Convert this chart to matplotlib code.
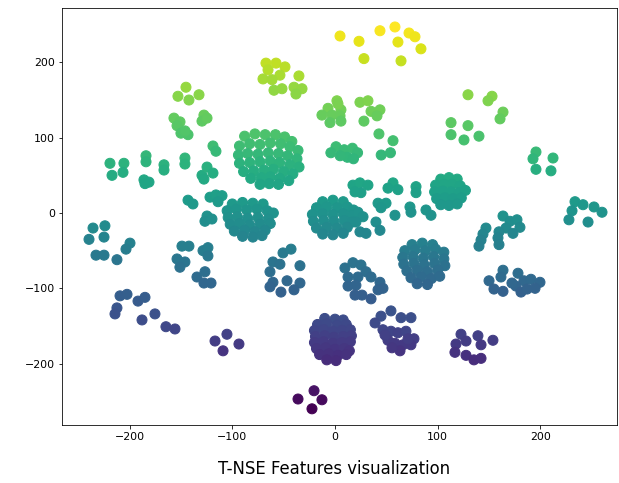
import numpy as np
import matplotlib
matplotlib.use("Agg")
import matplotlib.pyplot as plt

# t-SNE embedding points, grouped by visual cluster (x, y)
c_yellow = [(4.9, 235), (23.4, 228), (43.8, 242), (58.4, 247), (72.1, 239), (77.9, 234),
            (61.3, 227), (83.7, 218), (28.2, 205), (64.3, 202)]
c_lime = [(-67.2, 199), (-57.4, 199), (-48.7, 194), (-65.2, 190), (-53.6, 183), (-70.1, 178),
          (-61.3, 177), (-59.4, 163), (-51.6, 165), (-35.1, 182), (-39.9, 167), (-32.1, 165), (-38.0, 158)]
c_upleft = [(-145.1, 167), (-152.9, 155), (-142.2, 150), (-132.4, 157), (-156.8, 126), (-150.9, 121),
            (-153.8, 116), (-127.6, 130), (-129.5, 122), (-124.6, 126), (-150, 106), (-143.1, 104), (-146, 109)]
c_left_green = [(-219.1, 66), (-217.1, 50), (-205.5, 66), (-206.4, 54), (-184.0, 76), (-184.0, 68),
                (-186.0, 44), (-181.1, 41), (-185, 39), (-166.5, 64), (-166.5, 57), (-146.1, 73),
                (-146.1, 65), (-129.5, 50), (-127.6, 45), (-118.8, 89), (-115.9, 82),
                (-124.6, 61), (-118.8, 53)]
c_big_green = [(-88, 102), (-78, 105), (-68, 104), (-58, 104), (-49, 101), (-42, 95),
               (-93, 89), (-83, 92), (-73, 91), (-63, 93), (-53, 92), (-44, 88), (-36, 83),
               (-94, 77), (-85, 79), (-75, 78), (-65, 80), (-55, 79), (-46, 76), (-37, 72),
               (-93, 66), (-83, 67), (-73, 68), (-63, 69), (-54, 67), (-44, 64), (-35, 61),
               (-89, 55), (-79, 56), (-69, 57), (-60, 58), (-50, 55), (-41, 52),
               (-82, 46), (-72, 47), (-63, 48), (-54, 46), (-45, 43),
               (-73, 38), (-64, 39), (-55, 38)]
c_top_mid = [(1.9, 149), (-6.8, 139), (5.8, 137), (-12.7, 130), (-2.9, 130), (4.9, 129),
             (-4.9, 120), (5.8, 122), (2.9, 145),
             (24.3, 147), (32.1, 149), (35.1, 135), (43.8, 137), (40.9, 129), (28.2, 122),
             (42.8, 105), (56.5, 96)]
c_mid_green = [(1, 88), (9, 84), (17, 86), (12, 74), (22, 80), (5, 76), (-4, 80), (18, 72),
               (45, 77), (54, 80)]
c_right_green = [(129.5, 157), (113, 120), (129.5, 116), (113, 104), (125.6, 97), (140.2, 102),
                 (152.9, 155), (149, 149), (163.6, 134), (160.7, 125)]
c_right_small = [(195.7, 81), (192.8, 72), (195.7, 58), (212.3, 73), (210.3, 56)]
c_far_right = [(233.7, 15), (241.5, 11), (252.2, 8), (260, 1), (230.8, 3), (227.8, -9), (246.4, -12)]
c_right_teal = [(163.6, -4), (170.4, -11), (177.2, -9), (180.1, -19), (166.5, -20), (173.3, -27),
                (159.7, -25), (158.7, -33), (147, -20), (144.1, -28), (142.2, -36), (159.7, -42),
                (140.2, -44)]
c_right_blue = [(163.6, -76), (161.6, -85), (150, -90), (154.8, -101), (163.6, -104), (178.2, -80),
                (184, -90), (190.8, -88), (199.6, -92), (176.2, -97), (181.1, -105), (187, -101),
                (194.8, -100), (172.3, -93)]
c_right_purple = [(122.7, -161), (127.6, -170), (117.8, -174), (116.8, -185), (127.6, -189),
                  (135.3, -195), (139.2, -163), (142.2, -175), (153.8, -169), (142.2, -193)]
c_mid_purple = [(54.5, -130), (44.8, -137), (39, -146), (64.3, -139), (74, -139), (46.7, -155),
                (54.5, -157), (61.3, -159), (69.1, -157), (76.9, -167), (51.6, -169), (58.4, -173),
                (66.2, -175), (74, -175), (63.3, -183), (55.5, -179), (48.7, -162), (71.1, -167)]
c_big_purple = [(-10, -140), (0, -141), (8, -142),
                (-17, -148), (-8, -147), (2, -149), (11, -148),
                (-20, -156), (-11, -155), (-2, -157), (7, -156), (15, -155),
                (-19, -164), (-10, -163), (-1, -165), (8, -164), (16, -163),
                (-20, -172), (-11, -171), (-2, -173), (7, -172), (15, -171),
                (-18, -180), (-9, -179), (0, -181), (9, -180), (14, -183),
                (-15, -188), (-6, -187), (3, -189), (11, -188),
                (-8, -195), (1, -196)]
c_bottom = [(-20.4, -236), (-36, -247), (-12.7, -248), (-22.4, -260)]
c_left_purple = [(-105.2, -161), (-116.8, -170), (-93.5, -174), (-109, -183)]
c_left_blue = [(-209.3, -110), (-202.5, -108), (-212.3, -126), (-214.2, -134), (-191.8, -117),
               (-185, -112), (-187.9, -142), (-175.3, -134), (-164.6, -151), (-155.8, -154)]
c_left_teal = [(-235.6, -20), (-224, -17), (-239.5, -35), (-224.9, -32), (-232.7, -56),
               (-224.9, -56), (-212.3, -62), (-199.6, -40), (-203.5, -48)]
c_left_mid = [(-149, -44), (-142.2, -44), (-153.8, -61), (-146.1, -65), (-151, -72), (-128.5, -50),
              (-123.7, -46), (-123.7, -57), (-134.4, -85), (-126.6, -78), (-127.6, -93), (-120.7, -93)]
c_left_zero = [(-143.1, 17), (-138.3, 12), (-121.7, 21), (-115.9, 24), (-110, 23), (-113.9, 15),
               (-124.6, -4), (-126.6, -11), (-119.8, -8)]
c_big_teal_left = [(-100, 12), (-90, 14), (-80, 13), (-70, 12),
                   (-105, 3), (-96, 5), (-86, 4), (-76, 5), (-66, 3), (-60, 0),
                   (-104, -6), (-95, -5), (-85, -7), (-75, -6), (-65, -8),
                   (-102, -15), (-93, -14), (-83, -16), (-73, -15), (-63, -14),
                   (-98, -24), (-88, -23), (-78, -25), (-68, -23),
                   (-90, -31), (-80, -32), (-71, -30)]
c_big_teal_mid = [(-12, 15), (-2, 17), (8, 15),
                  (-18, 7), (-8, 8), (2, 7), (12, 8), (18, 4),
                  (-22, -2), (-12, -1), (-2, -2), (8, -1), (17, -3),
                  (-21, -11), (-11, -10), (-1, -11), (9, -10), (17, -12),
                  (-18, -20), (-8, -19), (2, -20), (12, -19),
                  (-12, -28), (-2, -29), (8, -27)]
c_mid_blue = [(-50.6, -53), (-42.8, -48), (-60.4, -65), (-53.6, -68), (-63.3, -78), (-34.1, -70),
              (-60.4, -92), (-46.7, -90), (-34.1, -93), (-63.3, -98), (-52.6, -105), (-39.9, -102)]
c_center_a = [(17.5, 37), (24.3, 40), (32.1, 37), (25.3, 27), (19.5, 28)]
c_center_b = [(56.5, 40), (51.6, 33), (61.3, 31), (78.9, 35), (78.9, 27)]
c_center_c = [(41.9, 13), (49.7, 13), (44.8, 7), (58.4, -3), (73, 8), (74, 1), (88.6, 4), (93.5, -3)]
c_center_d = [(103, 45), (111, 47), (119, 45),
              (98, 37), (106, 38), (114, 38), (122, 36),
              (97, 28), (105, 29), (113, 28), (121, 27), (127, 30),
              (99, 19), (107, 20), (115, 19), (123, 20),
              (103, 11), (111, 10), (119, 12)]
c_center_e = [(22.4, 1), (27.3, -5), (20.4, -12), (24.3, -25), (30.2, -27), (39.9, -12), (43.8, -23)]
c_big_blue_right = [(75, -42), (85, -40), (95, -42),
                    (68, -50), (78, -49), (88, -50), (98, -48), (106, -52),
                    (66, -59), (76, -58), (86, -60), (96, -58), (106, -61),
                    (67, -68), (77, -67), (87, -69), (97, -67), (107, -70),
                    (70, -77), (80, -76), (90, -78), (100, -76),
                    (74, -86), (84, -85), (94, -87), (102, -84),
                    (80, -94), (90, -95)]
c_center_blue = [(9.7, -73), (17.5, -66), (25.3, -69), (30.2, -78), (12.7, -85), (22.4, -85),
                 (35.1, -85), (43.8, -92), (46.7, -100), (12.7, -97), (20.4, -96), (19.5, -109),
                 (26.3, -109), (35.1, -114), (41.9, -102)]

clusters = [c_yellow, c_lime, c_upleft, c_left_green, c_big_green, c_top_mid, c_mid_green,
            c_right_green, c_right_small, c_far_right, c_right_teal, c_right_blue,
            c_right_purple, c_mid_purple, c_big_purple, c_bottom, c_left_purple, c_left_blue,
            c_left_teal, c_left_mid, c_left_zero, c_big_teal_left, c_big_teal_mid, c_mid_blue,
            c_center_a, c_center_b, c_center_c, c_center_d, c_center_e, c_big_blue_right,
            c_center_blue]

pts = np.array([p for cl in clusters for p in cl], dtype=float)
xs, ys = pts[:, 0], pts[:, 1]

W, H = 619, 483
fig = plt.figure(figsize=(W / 72, H / 72), dpi=72)
ax = fig.add_axes([62 / W, 1 - 425 / H, (617 - 62) / W, (425 - 8) / H])
ax.scatter(xs, ys, c=ys, cmap="viridis", s=100)
ax.set_xlim(-265.8, 274.6)
ax.set_ylim(-281.5, 272.2)
ax.set_xticks([-200, -100, 0, 100, 200])
ax.set_yticks([-200, -100, 0, 100, 200])
ax.tick_params(labelsize=11)
ax.set_xlabel("T-NSE Features visualization", fontsize=16.5, labelpad=18)
ax.xaxis.set_label_coords(0.49, -0.085)
fig.savefig("out.png", dpi=72)
